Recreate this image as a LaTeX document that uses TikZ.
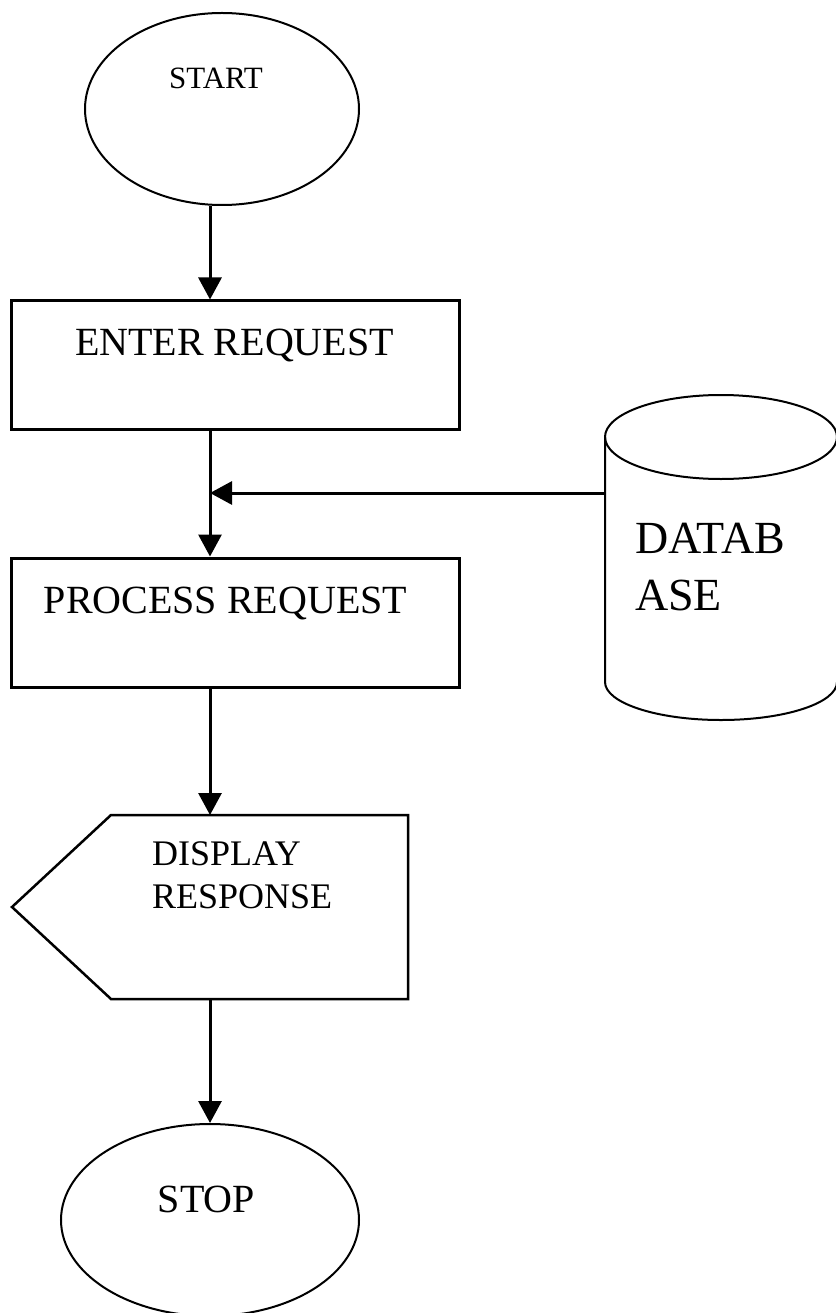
\documentclass[tikz,border=0pt]{standalone}
\usepackage{fontspec}
\setmainfont{Liberation Serif}
\usetikzlibrary{arrows.meta,shapes.geometric}
\begin{document}
\begin{tikzpicture}[x=1bp,y=-1bp,
  shapeline/.style={draw=black,line width=2bp},
  boxline/.style={draw=black,line width=3bp},
  arr/.style={draw=black,line width=3bp,-{Triangle[length=22bp,width=23bp]}},
  lbl/.style={inner sep=0pt,anchor=base,text=black},
  lbll/.style={inner sep=0pt,anchor=base west,text=black},
  oval/.style={ellipse,shapeline,inner sep=0pt}
]
\useasboundingbox (0,0) rectangle (835,1313);
\fill[white] (0,0) rectangle (835,1313);
\coordinate (axis) at (210,0);

% START
\node[oval,minimum width=274bp,minimum height=192bp] (start) at (222,109) {};
\node[lbl,font=\fontsize{31bp}{36bp}\selectfont] (tstart) at (216,89) {START};

% ENTER REQUEST
\node[boxline,minimum width=447bp,minimum height=128bp,inner sep=0pt] (enter) at (235.5,365) {};
\node[lbl,font=\fontsize{40bp}{46bp}\selectfont] (tenter) at (234.5,355) {ENTER REQUEST};

% PROCESS REQUEST
\node[boxline,minimum width=447bp,minimum height=129bp,inner sep=0pt] (process) at (235.5,622.5) {};
\node[lbl,font=\fontsize{40bp}{46bp}\selectfont] (tprocess) at (225.5,613) {PROCESS REQUEST};

% DISPLAY RESPONSE
\coordinate (d1) at (111,815);
\coordinate (d2) at (408,815);
\coordinate (d3) at (408,999);
\coordinate (d4) at (111,999);
\coordinate (d5) at (12,907);
\draw[draw=black,line width=2.5bp,line join=miter] (d1) -- (d2) -- (d3) -- (d4) -- (d5) -- cycle;
\coordinate (dtop) at (210,815);
\coordinate (dbot) at (210,999);
\node[lbll,font=\fontsize{36bp}{42bp}\selectfont] (tdisp1) at (152,865) {DISPLAY};
\node[lbll,font=\fontsize{36bp}{42bp}\selectfont] (tdisp2) at (152,908) {RESPONSE};

% STOP
\node[oval,minimum width=298bp,minimum height=192bp] (stop) at (210,1220) {};
\node[lbl,font=\fontsize{40bp}{46bp}\selectfont] (tstop) at (206.5,1212) {STOP};

% DATABASE cylinder
\coordinate (c1) at (605,437);
\coordinate (c2) at (837,437);
\coordinate (c3) at (837,682);
\coordinate (c4) at (605,682);
\draw[shapeline] (721,437) ellipse [x radius=116, y radius=42];
\draw[shapeline] (c1) -- (c4) arc[start angle=180, end angle=360, x radius=116, y radius=-38] -- (c2);
\node[lbll,font=\fontsize{46bp}{54bp}\selectfont] (tdb1) at (635,553) {DATAB};
\node[lbll,font=\fontsize{46bp}{54bp}\selectfont] (tdb2) at (635,610) {ASE};
\coordinate (dbin) at (605,493);
\coordinate (join) at (210,493);

% connectors
\draw[arr] (start.south -| axis) -- (enter.north -| axis);
\draw[draw=black,line width=3bp] (enter.south -| axis) -- (join);
\draw[arr] (join) -- (process.north -| axis);
\draw[arr] (dbin) -- (join);
\draw[arr] (process.south -| axis) -- (dtop);
\draw[arr] (dbot) -- (stop.north -| axis);
\end{tikzpicture}
\end{document}
